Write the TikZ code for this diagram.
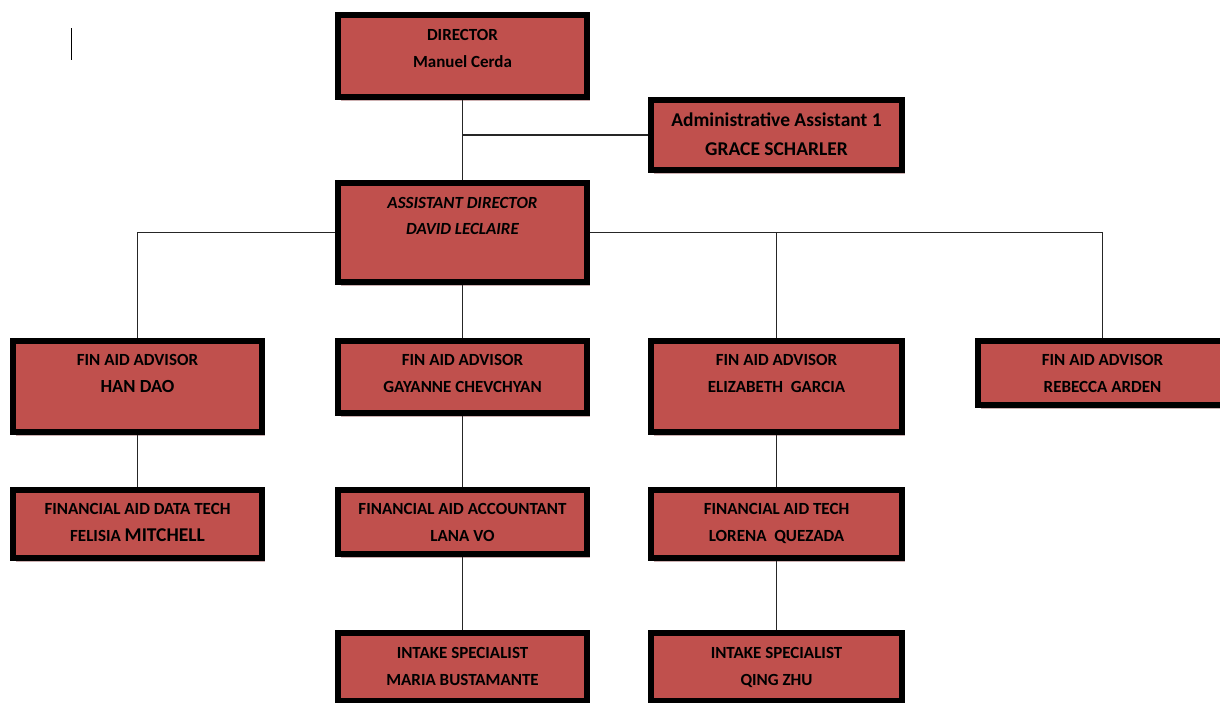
\documentclass[tikz,border=0pt]{standalone}
\usepackage{fontspec}
\setmainfont{Carlito}
\usetikzlibrary{shadows}
\definecolor{boxred}{HTML}{C0504D}
\definecolor{shad}{HTML}{CDB0B1}
\begin{document}
\begin{tikzpicture}[x=1pt,y=-1pt,
  box/.style={draw=black, line width=6pt, fill=boxred, minimum width=249pt, inner sep=0pt,
    drop shadow={shadow xshift=3pt, shadow yshift=-4pt, fill=shad, opacity=1}},
  lbl/.style={font=\fontsize{17}{27}\selectfont\bfseries, align=center, anchor=north, inner sep=0pt},
  conn/.style={line width=1.1pt, draw=black!85}]
\useasboundingbox (0,0) rectangle (1220,702);
\clip (0,0) rectangle (1220,702);

% boxes
\node[box, minimum height=82pt] (dir) at (462.5,56) {};
\node[box, minimum height=70pt, minimum width=251pt] (adm) at (776.5,135) {};
\node[box, minimum height=99pt] (ad) at (462.5,232.5) {};
\node[box, minimum height=91pt] (han) at (137.5,386.5) {};
\node[box, minimum height=72pt] (gay) at (462.5,377) {};
\node[box, minimum height=91pt, minimum width=251pt] (eliz) at (776.5,386.5) {};
\node[box, minimum height=64pt] (reb) at (1102.5,373) {};
\node[box, minimum height=68pt] (fel) at (137.5,524) {};
\node[box, minimum height=64pt] (lana) at (462.5,522) {};
\node[box, minimum height=68pt, minimum width=251pt] (lor) at (776.5,524) {};
\node[box, minimum height=68pt] (maria) at (462.5,667) {};
\node[box, minimum height=68pt, minimum width=251pt] (qing) at (776.5,667) {};

% labels
\node[lbl] (dirT) at (462.5,29) {DIRECTOR\\Manuel Cerda};
\node[lbl, font=\fontsize{19.5}{29}\selectfont\bfseries] (admT) at (776.5,112.5) {Administrative Assistant 1\\GRACE SCHARLER};
\node[lbl, font=\fontsize{17}{26}\selectfont\bfseries\itshape] (adT) at (462.5,197) {ASSISTANT DIRECTOR\\DAVID LECLAIRE};
\node[lbl] (hanT) at (137.5,354) {FIN AID ADVISOR\\{\fontsize{18.5}{27}\selectfont HAN DAO}};
\node[lbl] (gayT) at (462.5,354) {FIN AID ADVISOR\\GAYANNE CHEVCHYAN};
\node[lbl] (elizT) at (776.5,354) {FIN AID ADVISOR\\ELIZABETH\ \ GARCIA};
\node[lbl] (rebT) at (1102.5,354) {FIN AID ADVISOR\\REBECCA ARDEN};
\node[lbl] (felT) at (137.5,503) {FINANCIAL AID DATA TECH\\FELISIA {\fontsize{19.5}{27}\selectfont MITCHELL}};
\node[lbl] (lanaT) at (462.5,503) {FINANCIAL AID ACCOUNTANT\\LANA VO};
\node[lbl] (lorT) at (776.5,503) {FINANCIAL AID TECH\\LORENA\ \ QUEZADA};
\node[lbl] (mariaT) at (462.5,647) {INTAKE SPECIALIST\\MARIA BUSTAMANTE};
\node[lbl] (qingT) at (776.5,647) {INTAKE SPECIALIST\\QING ZHU};

% connectors
\draw[conn] (dir.south) -- (ad.north);
\draw[conn] (dir.south |- adm.west) -- (adm.west);
\draw[conn] (ad.west) -| (han.north);
\draw[conn] (ad.east) -| (reb.north);
\draw[conn] (eliz.north) -- (eliz.north |- ad.east);
\draw[conn] (ad.south) -- (gay.north);
\draw[conn] (gay.south) -- (lana.north);
\draw[conn] (lana.south) -- (maria.north);
\draw[conn] (han.south) -- (fel.north);
\draw[conn] (eliz.south) -- (lor.north);
\draw[conn] (lor.south) -- (qing.north);

% stray cursor mark
\coordinate (curA) at (71,28);
\coordinate (curB) at (71,60);
\draw[line width=1pt] (curA) -- (curB);
\end{tikzpicture}
\end{document}
